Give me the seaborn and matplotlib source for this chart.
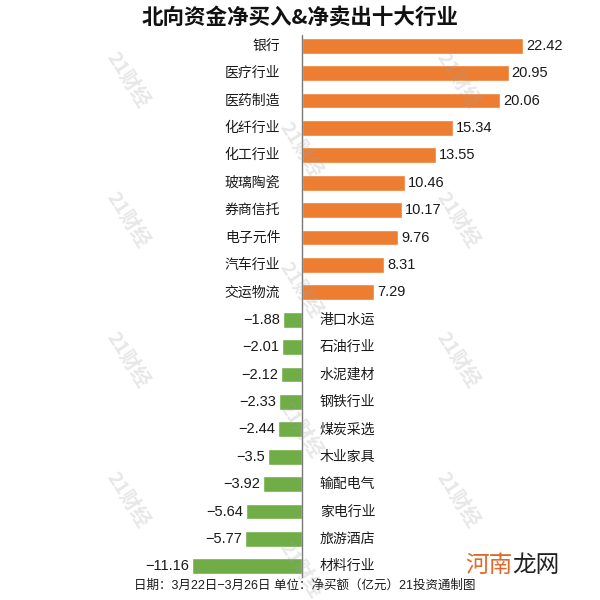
import pandas as pd
import matplotlib
matplotlib.use("Agg")
import matplotlib.pyplot as plt
import seaborn as sns

# 北向资金净买入 / 净卖出 (亿元)
buy_names = ['银行', '医疗行业', '医药制造', '化纤行业', '化工行业',
             '玻璃陶瓷', '券商信托', '电子元件', '汽车行业', '交运物流']
buy_values = [22.42, 20.95, 20.06, 15.34, 13.55, 10.46, 10.17, 9.76, 8.31, 7.29]
sell_names = ['港口水运', '石油行业', '水泥建材', '钢铁行业', '煤炭采选',
              '木业家具', '输配电气', '家电行业', '旅游酒店', '材料行业']
sell_values = [-1.88, -2.01, -2.12, -2.33, -2.44, -3.5, -3.92, -5.64, -5.77, -11.16]

title = '北向资金净买入&净卖出十大行业'
footer = '日期：3月22日−3月26日 单位：净买额（亿元）21投资通制图'

sns.set_style("white")
plt.rcParams['font.family'] = ['Liberation Sans', 'Noto Sans CJK SC', 'DejaVu Sans']
plt.rcParams['axes.unicode_minus'] = True

df = pd.DataFrame({
    'name': buy_names + sell_names,
    'value': buy_values + sell_values,
})
df['side'] = ['buy' if v > 0 else 'sell' for v in df['value']]

fig = plt.figure(figsize=(6, 6), dpi=100)
ax = fig.add_axes([0, 0.0333, 1, 0.9133])

sns.barplot(data=df, y='name', x='value', hue='side', orient='h',
            palette={'buy': '#ED7D31', 'sell': '#70AD47'}, width=0.58,
            saturation=1, dodge=False, legend=False, ax=ax)

ax.set_xlim(-30.63, 30.22)
ax.set_ylim(19.5, -0.5)
ax.axvline(0, color='#7a7a7a', lw=1.0, ymin=0.005, ymax=0.995, zorder=3)
ax.set_axis_off()

for i, (name, v) in enumerate(zip(df['name'], df['value'])):
    txt = f"{v:g}".replace('-', '−')
    if v > 0:
        ax.text(-2.2, i, name, ha='right', va='center', fontsize=10, color='#1a1a1a')
        ax.text(v + 0.3, i, txt, ha='left', va='center', fontsize=10.5, color='#1a1a1a')
    else:
        ax.text(1.8, i, name, ha='left', va='center', fontsize=10, color='#1a1a1a')
        ax.text(v - 0.3, i, txt, ha='right', va='center', fontsize=10.5, color='#1a1a1a')

fig.text(0.5, 0.972, title, ha='center', va='center', fontsize=15.5,
         fontweight='heavy', family=['Noto Sans CJK SC', 'DejaVu Sans'], color='#111111')
fig.text(0.508, 0.024, footer, ha='center', va='center', fontsize=9, color='#1a1a1a')

# 水印
marks = [(127, 80), (127, 220), (127, 360), (127, 500),
         (457, 80), (457, 220), (457, 360), (457, 500),
         (300, 150), (300, 290), (300, 430), (300, 570)]
for mx, my in marks:
    fig.text(mx / 600, 1 - my / 600, '21财经', ha='center', va='center', fontsize=14,
             fontweight='bold', rotation=-57, color='#a0a0a0', alpha=0.25,
             family=['Noto Sans CJK SC', 'DejaVu Sans'], zorder=10)

fig.text(0.775, 0.058, '河南', ha='left', va='center', fontsize=17,
         color='#E0692A', family=['Noto Sans CJK SC', 'DejaVu Sans'])
fig.text(0.853, 0.058, '龙网', ha='left', va='center', fontsize=17,
         color='#222222', family=['Noto Sans CJK SC', 'DejaVu Sans'])

fig.savefig('out.png', dpi=100)
